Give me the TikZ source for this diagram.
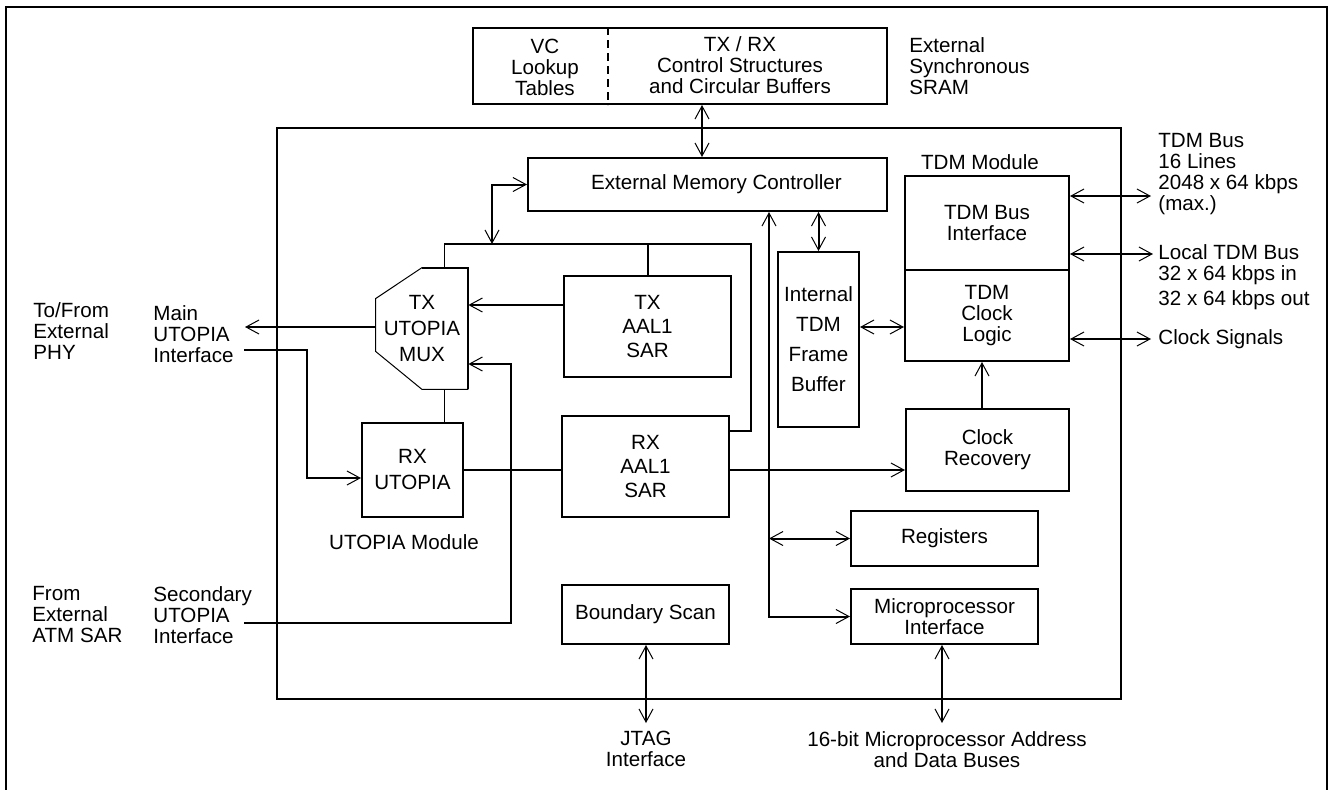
\documentclass[tikz,border=0pt]{standalone}
\usepackage{fontspec}
\setmainfont{Liberation Sans}
\usetikzlibrary{arrows.meta,calc,positioning}
\tikzset{
  wire/.style={line width=1pt},
  thinwire/.style={line width=0.5pt},
  sgl/.style={wire,->},
  dbl/.style={wire,<->},
  blk/.style 2 args={draw,line width=1pt,inner sep=0pt,align=center,
    minimum width=#1*0.5pt,minimum height=#2*0.5pt},
  lbl/.style={inner sep=0pt,align=center},
  lbll/.style={inner sep=0pt,align=left,anchor=west},
}

\begin{document}
\begin{tikzpicture}[x=0.5pt,y=-0.5pt,font=\fontsize{10.3}{10.5}\selectfont,
  >={Straight Barb[length=6.5pt,width=7pt,line width=0.5pt]}]
        \useasboundingbox (0,0) rectangle (1329,789);
        \draw[wire] (6,7) rectangle (1327,800);
        % external SRAM
        \node[blk={414}{76}] (sram) at (680,66) {};
        \coordinate (xdiv) at (608,0);
        \draw[wire,dash pattern=on 4pt off 2.5pt] (sram.north -| xdiv) -- (sram.south -| xdiv);
        \node[lbl] (vclk) at (545,67) {VC\\Lookup\\Tables};
        \node[lbl] (ctrl) at (740,65) {TX / RX\\Control Structures\\and Circular Buffers};
        \node[lbll] (sramlbl) at (909,66) {External\\Synchronous\\SRAM};
        % chip
        \node[blk={844}{571}] (chip) at (699,413.5) {};
        \node[blk={359}{53}] (emc) at (707.5,184.5) {};
        \node[lbl] (emctxt) at ($(emc)+(9,0)$) {External Memory Controller};
        \node[blk={167}{101}] (txsar) at (647.5,326.5) {TX\\[1.5pt]AAL1\\[1.5pt]SAR};
        \node[blk={167}{101}] (rxsar) at (645.5,466.5) {RX\\[1.5pt]AAL1\\[1.5pt]SAR};
        \node[blk={101}{94}] (rxu) at (412.5,470) {RX\\[2.5pt]UTOPIA};
        \node[blk={167}{59}] (bscan) at (645.5,614.5) {Boundary Scan};
        \node[blk={81}{175}] (fbuf) at (818.5,339.5) {Internal\\[4.5pt]TDM\\[4.5pt]Frame\\[4.5pt]Buffer};
        \node[blk={164}{94}] (tdmbi) at (987,223) {TDM Bus\\Interface};
        \node[blk={164}{91}] (tdmcl) at (987,315.5) {TDM\\Clock\\Logic};
        \node[blk={163}{82}] (clkrec) at (987.5,450) {Clock\\Recovery};
        \node[blk={187}{55}] (regs) at (944.5,538.5) {Registers};
        \node[blk={187}{55}] (mpi) at (944.5,616.5) {Microprocessor\\Interface};
        \node[lbl] (tdmmod) at (980,162) {TDM Module};
        \node[lbl] (utmod) at (404,542) {UTOPIA Module};
        % TX UTOPIA MUX
        \node[lbl,minimum width=46pt,minimum height=60.5pt] (mux) at (422,328.5) {TX\\[2.5pt]UTOPIA\\[2.5pt]MUX};
        \draw[wire] (mux.north) -- (mux.north east) -- (mux.south east);
        \draw[thinwire] (mux.south east) -- (mux.south) -- ($(mux.south west)+(0,-38)$)
          -- ($(mux.north west)+(0,31)$) -- (mux.north);
        % internal buses
        \coordinate (busl) at (444,244);
        \coordinate (busr) at (751,244);
        \coordinate (busin) at (492,244);
        \draw[wire] (busl) -- (busr) |- ($(rxsar.north east)!0.16!(rxsar.south east)$);
        \draw[thinwire] (mux.north -| busl) -- (busl);
        \draw[thinwire] (mux.south -| busl) -- (rxu.north -| busl);
        \draw[wire] (txsar.north) -- (txsar.north |- busl);
        \draw[dbl] (emc.west) -| (busin);
        \coordinate (xsr) at (702,0);
        \draw[dbl] (sram.south -| xsr) -- (emc.north -| xsr);
        \coordinate (ytx) at (0,305);
        \draw[sgl] (txsar.west |- ytx) -- (mux.east |- ytx);
        \draw[wire] (rxu.east) -- (rxsar.west |- rxu.east);
        % UTOPIA ports
        \coordinate (mainout) at (245,327);
        \draw[sgl] (mux.west |- mainout) -- (mainout);
        \coordinate (mainin) at (244,350);
        \coordinate (rxin) at (307,478);
        \draw[sgl] (mainin) -| (rxin) -- (rxu.west |- rxin);
        \coordinate (secin) at (244,623);
        \coordinate (secup) at (511,364);
        \draw[sgl] (secin) -| (secup) -- (mux.east |- secup);
        \node[lbll] (phy) at (33,331) {To/From\\External\\PHY};
        \node[lbll] (mainlbl) at (153,334) {Main\\UTOPIA\\Interface};
        \node[lbll] (atm) at (32,615) {From\\External\\ATM SAR};
        \node[lbll] (seclbl) at (153,615) {Secondary\\UTOPIA\\Interface};
        % clock and TDM
        \coordinate (yck) at (0,470);
        \draw[sgl] (rxsar.east |- yck) -- (clkrec.west |- yck);
        \coordinate (xv) at (769,0);
        \draw[dbl] (emc.south -| xv) |- (mpi.west);
        \draw[dbl] (regs.west -| xv) -- (regs.west);
        \draw[dbl] (emc.south -| fbuf.north) -- (fbuf.north);
        \coordinate (yfb) at (0,327);
        \draw[dbl] (fbuf.east |- yfb) -- (tdmcl.west |- yfb);
        \coordinate (xcr) at (982,0);
        \draw[sgl] (clkrec.north -| xcr) -- (tdmcl.south -| xcr);
        \coordinate (tdmbus) at (1151,196);
        \draw[dbl] (tdmbi.east |- tdmbus) -- (tdmbus);
        \coordinate (localbus) at (1153,254);
        \draw[dbl] (tdmbi.east |- localbus) -- (localbus);
        \coordinate (clksig) at (1151,339);
        \draw[dbl] (tdmcl.east |- clksig) -- (clksig);
        \node[lbll] (tdmbuslbl) at (1158,174.5) {TDM Bus\\16 Lines\\2048 x 64 kbps\\(max.)};
        \node[lbll] (locallbl) at (1158,277) {Local TDM Bus\\32 x 64 kbps in\\[2pt]32 x 64 kbps out};
        \node[lbll] (clklbl) at (1158,339) {Clock Signals};
        % bottom ports
        \coordinate (mpbus) at (942,723);
        \draw[dbl] (mpi.south -| mpbus) -- (mpbus);
        \coordinate (jtag) at (646,723);
        \draw[dbl] (bscan.south -| jtag) -- (jtag);
        \node[lbl,below=4pt of jtag] (jtaglbl) {JTAG\\Interface};
        \node[lbl,below=4pt of mpbus,xshift=2.5pt] (mplbl) {16-bit Microprocessor Address\\and Data Buses};
      \end{tikzpicture}
\end{document}
